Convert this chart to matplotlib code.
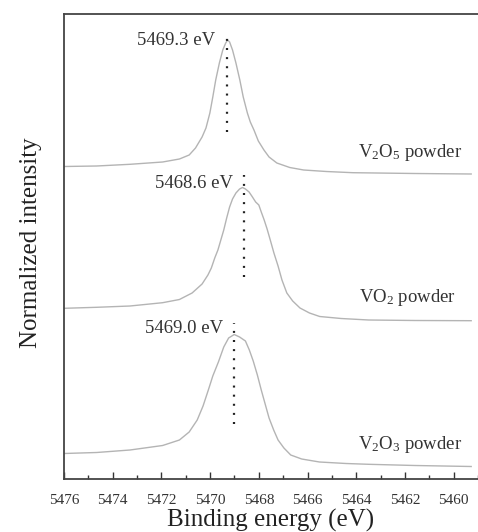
import matplotlib
matplotlib.use("Agg")
import matplotlib.pyplot as plt

plt.rcParams['font.family'] = ['Liberation Serif', 'DejaVu Serif']
plt.rcParams['mathtext.fontset'] = 'custom'
plt.rcParams['mathtext.rm'] = 'Liberation Serif'
plt.rcParams['mathtext.it'] = 'Liberation Serif:italic'

# ---- data (binding energy in eV, normalized intensity with vertical offsets) ----
v2o5_energy = [5476.00, 5474.66, 5473.29, 5471.95, 5471.26, 5470.86, 5470.60, 5470.33,
               5470.17, 5470.01, 5469.89, 5469.77, 5469.62, 5469.48, 5469.36, 5469.28,
               5469.20, 5469.08, 5468.94, 5468.78, 5468.64, 5468.47, 5468.35, 5468.20,
               5468.02, 5467.79, 5467.58, 5467.26, 5466.73, 5466.16, 5465.23, 5464.14,
               5461.59, 5459.28]
v2o5_intensity = [3.125, 3.13, 3.147, 3.17, 3.20, 3.24, 3.31, 3.42,
                  3.51, 3.66, 3.82, 3.99, 4.16, 4.29, 4.36, 4.39,
                  4.37, 4.29, 4.16, 3.99, 3.82, 3.66, 3.57, 3.49,
                  3.38, 3.29, 3.22, 3.16, 3.115, 3.09, 3.075, 3.063,
                  3.055, 3.05]

vo2_energy = [5476.00, 5474.66, 5473.29, 5471.95, 5471.26, 5470.74, 5470.33, 5470.09,
              5469.95, 5469.81, 5469.68, 5469.56, 5469.44, 5469.32, 5469.20, 5469.08,
              5468.94, 5468.79, 5468.67, 5468.55, 5468.40, 5468.27, 5468.13, 5468.00,
              5467.90, 5467.78, 5467.66, 5467.53, 5467.38, 5467.21, 5467.05, 5466.85,
              5466.61, 5466.31, 5465.92, 5465.50, 5464.62, 5463.49, 5461.59, 5459.28]
vo2_intensity = [1.707, 1.717, 1.73, 1.763, 1.795, 1.86, 1.95, 2.04,
                 2.11, 2.21, 2.29, 2.39, 2.49, 2.61, 2.72, 2.80,
                 2.86, 2.90, 2.915, 2.90, 2.87, 2.823, 2.77, 2.74,
                 2.67, 2.59, 2.50, 2.39, 2.26, 2.13, 1.99, 1.86,
                 1.78, 1.71, 1.66, 1.625, 1.605, 1.59, 1.585, 1.583]

v2o3_energy = [5476.00, 5474.66, 5473.29, 5471.95, 5471.26, 5470.86, 5470.53, 5470.29,
               5470.06, 5469.89, 5469.66, 5469.44, 5469.24, 5469.01, 5468.79, 5468.55,
               5468.39, 5468.23, 5468.06, 5467.90, 5467.74, 5467.58, 5467.39, 5467.21,
               5466.97, 5466.69, 5466.24, 5465.51, 5464.42, 5463.49, 5461.59, 5459.28]
v2o3_intensity = [0.255, 0.265, 0.29, 0.335, 0.39, 0.47, 0.59, 0.73,
                  0.90, 1.03, 1.17, 1.32, 1.41, 1.445, 1.42, 1.38,
                  1.29, 1.18, 1.04, 0.89, 0.75, 0.61, 0.49, 0.39,
                  0.31, 0.24, 0.20, 0.17, 0.155, 0.147, 0.135, 0.125]

peak_energies = [5469.3, 5468.6, 5469.0]
peak_labels = ["5469.3 eV", "5468.6 eV", "5469.0 eV"]
marker_ranges = [(3.47, 4.47), (2.02, 3.04), (0.55, 1.56)]
label_pos = [(5469.81, 4.34), (5469.08, 2.907), (5469.48, 1.457)]

sample_names = [r"V$_2$O$_5$ powder", r"VO$_2$ powder", r"V$_2$O$_3$ powder"]
sample_label_pos = [(5459.64, 3.217), (5459.89, 1.773), (5459.64, 0.30)]

x_ticks = [5476, 5474, 5472, 5470, 5468, 5466, 5464, 5462, 5460]

# ---- figure ----
fig = plt.figure(figsize=(4.78, 5.32), dpi=100)
ax = fig.add_axes([64/478, 1 - 479/532, 1 - 64/478, (479 - 14)/532])

curve_color = '#b4b4b4'
for e, i in [(v2o5_energy, v2o5_intensity), (vo2_energy, vo2_intensity),
             (v2o3_energy, v2o3_intensity)]:
    ax.plot(e, i, color=curve_color, lw=1.0, solid_joinstyle='round')

for pe, (y0, y1) in zip(peak_energies, marker_ranges):
    ax.plot([pe, pe], [y0, y1], color='#222222', lw=1.6,
            linestyle=(0, (0.9, 3.2)), dash_capstyle='butt')

for txt, (lx, ly) in zip(peak_labels, label_pos):
    ax.text(lx, ly, txt, ha='right', va='baseline', fontsize=13.5, color='#333333')

for name, (lx, ly) in zip(sample_names, sample_label_pos):
    ax.text(lx, ly, name, ha='right', va='baseline', fontsize=13.5, color='#333333')

ax.set_xlim(5476, 5476 - (478 - 64) / 24.7)
ax.set_ylim(0, 4.65)
ax.set_xticks(x_ticks)
ax.set_xticks(range(5459, 5477), minor=True)
ax.set_yticks([])
ax.tick_params(axis='x', which='major', direction='in', length=5, width=1.0,
               labelsize=11, pad=11, colors='#333333')
ax.tick_params(axis='x', which='minor', direction='in', length=3, width=1.0,
               colors='#333333')
for s in ['left', 'bottom', 'top']:
    ax.spines[s].set_linewidth(1.3)
    ax.spines[s].set_color('#444444')
ax.spines['right'].set_visible(False)

ax.set_xlabel("Binding energy (eV)", fontsize=18, color='#222222', labelpad=1)
ax.set_ylabel("Normalized intensity", fontsize=18, color='#222222', labelpad=18)
ax.yaxis.set_label_coords(-0.053, 0.509)

fig.savefig("out.png", dpi=100)
